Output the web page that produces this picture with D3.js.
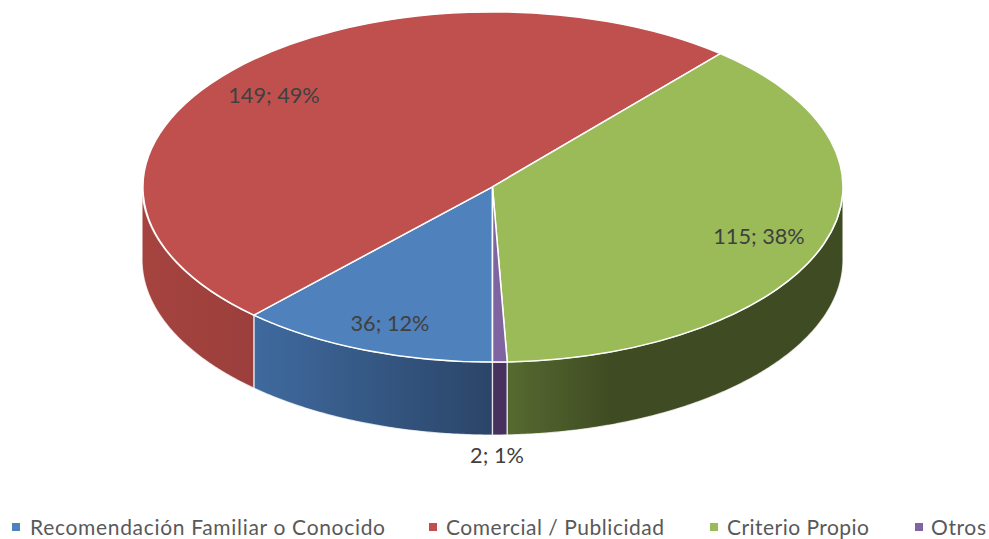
<!DOCTYPE html>
<html><head><meta charset="utf-8">
<style>html,body{margin:0;padding:0;background:#fff}svg{display:block}text{font-family:Lato,"Open Sans",sans-serif}</style>
<script src="https://cdn.jsdelivr.net/npm/d3@7"></script></head><body><script>
const categories=["Recomendación Familiar o Conocido","Comercial / Publicidad","Criterio Propio","Otros"];
const values=[36,149,115,2];
const percents=[12,49,38,1];
const topColors=["#4f81bd","#c0504d","#9bbb59","#8064a2"];
const sideStops=[["#3f6a9f","#2b4568"],["#a5433f","#9c3f3c"],["#566a30","#3f4b22"],["#46315f","#46315f"]];
const labelCentre=[[390,325],[274,97],[759,238],[497,457]];
const legendSwatchX=[12,429,710,915];
const legendTextX=[30,446,727,931];
const legendTextW=[355,218,142,55];

const W=989,H=539,cx=492.5,cy=186.8,rx=350.5,ry=175.3,depth=73;
const svg=d3.select("body").append("svg").attr("width",W).attr("height",H);
const defs=svg.append("defs");
const arcs=d3.pie().sort(null).startAngle(Math.PI).endAngle(3*Math.PI)(values);
const arc=d3.arc().innerRadius(0).outerRadius(1);
const px=a=>cx+rx*Math.sin(a), py=a=>cy-ry*Math.cos(a);

// visible wall: the part of each slice on the front half of the ellipse
function frontSpan(d){
  for(const k of [0,2*Math.PI]){
    const s=Math.max(d.startAngle,Math.PI/2+k), e=Math.min(d.endAngle,3*Math.PI/2+k);
    if(e>s) return [s,e];
  }
  return null;
}
const wall=d3.line();
const walls=svg.append("g");
arcs.forEach((d,i)=>{
  const span=frontSpan(d); if(!span) return;
  const [s,e]=span;
  const n=Math.max(4,Math.ceil((e-s)*120));
  const angs=d3.range(n+1).map(j=>s+(e-s)*j/n);
  const top=angs.map(a=>[px(a),py(a)]);
  const bot=angs.slice().reverse().map(a=>[px(a),py(a)+depth]);
  const xs=top.map(p=>p[0]);
  const x0=d3.min(xs),x1=d3.max(xs);
  const g=defs.append("linearGradient").attr("id","w"+i).attr("gradientUnits","userSpaceOnUse")
    .attr("x1",x0).attr("x2",i===2?Math.min(x1,x0+105):x1).attr("y1",0).attr("y2",0);
  g.append("stop").attr("offset",0).attr("stop-color",sideStops[i][0]);
  g.append("stop").attr("offset",1).attr("stop-color",sideStops[i][1]);
  walls.append("path").attr("d",wall(top.concat(bot))+"Z").attr("fill",`url(#w${i})`)
    .attr("stroke","#fff").attr("stroke-opacity",.75).attr("stroke-width",1.3).attr("stroke-linejoin","round");
});
const tops=svg.append("g").attr("transform",`translate(${cx},${cy}) scale(${rx},${ry})`);
tops.selectAll("path").data(arcs).join("path").attr("d",arc)
  .attr("fill",(d,i)=>topColors[i]).attr("stroke","#fff").attr("stroke-width",1.5)
  .attr("stroke-linejoin","round").attr("vector-effect","non-scaling-stroke");

svg.append("g").selectAll("text").data(arcs).join("text")
  .attr("x",(d,i)=>labelCentre[i][0]).attr("y",(d,i)=>labelCentre[i][1])
  .attr("text-anchor","middle").attr("dominant-baseline","middle")
  .attr("font-size",21.7).attr("fill","#404040")
  .text((d,i)=>`${values[i]}; ${percents[i]}%`);

const leg=svg.append("g").selectAll("g").data(categories).join("g");
leg.append("rect").attr("x",(d,i)=>legendSwatchX[i]).attr("y",523).attr("width",8).attr("height",8)
  .attr("fill",(d,i)=>topColors[i]);
leg.append("text").attr("x",(d,i)=>legendTextX[i]).attr("y",534.5)
  .attr("font-size",21).attr("textLength",(d,i)=>legendTextW[i]).attr("lengthAdjust","spacing")
  .attr("fill","#595959").text(d=>d);
</script></body></html>
